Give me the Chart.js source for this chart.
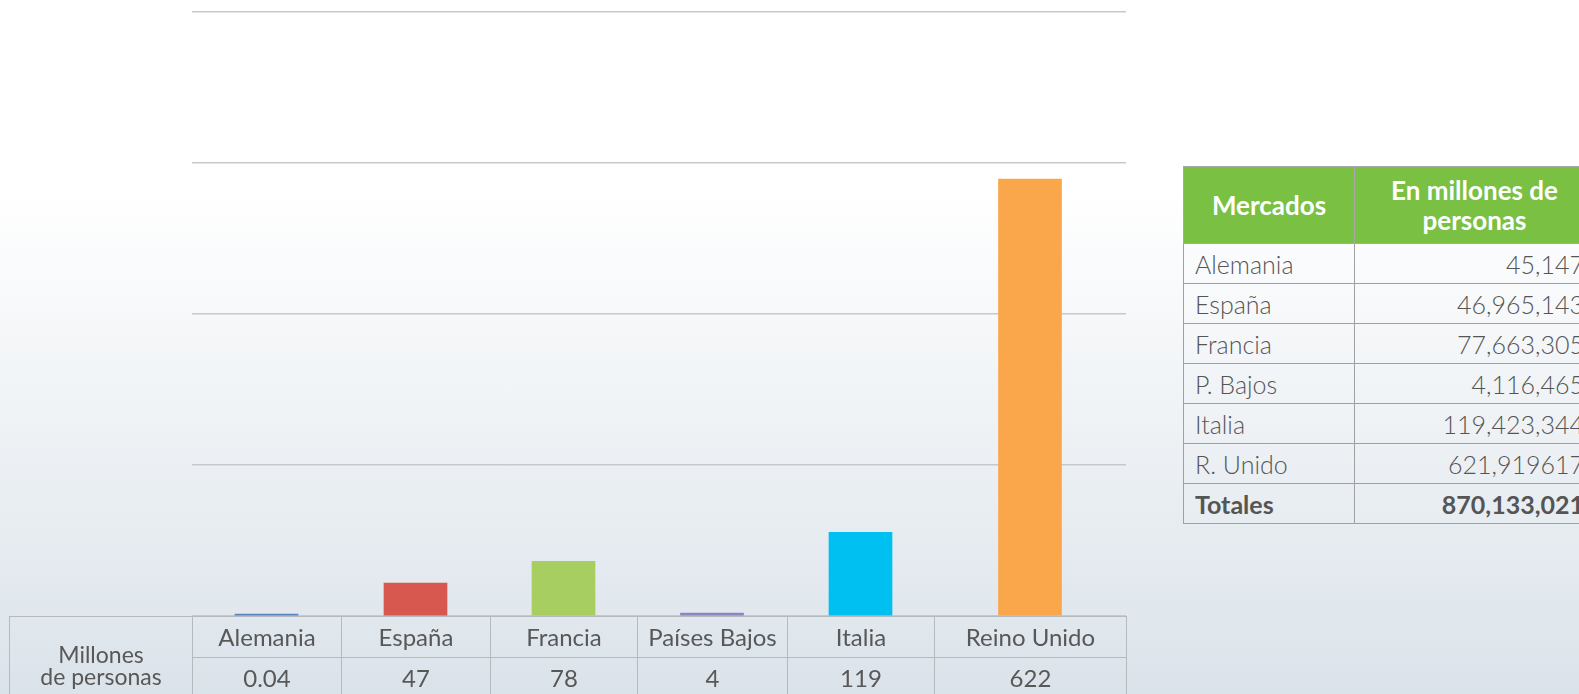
<!DOCTYPE html>
<html>
<head>
<meta charset="utf-8">
<script src="https://cdn.jsdelivr.net/npm/chart.js@4.4.1/dist/chart.umd.min.js"></script>
<style>
  html, body { margin: 0; padding: 0; }
  body {
    width: 1579px; height: 694px; overflow: hidden; position: relative;
    background: linear-gradient(to bottom, #ffffff 0px, #ffffff 190px, #dbe3ea 694px);
    font-family: Lato, "Open Sans", sans-serif; color: #555;
  }
  #chartBox { position: absolute; left: 0; top: 0; width: 1130px; height: 622px; }
  table { border-collapse: collapse; table-layout: fixed; position: absolute; }
  #dataTable { left: 9px; top: 616px; width: 1117px; font-size: 24px; color: #585858; }
  #dataTable td { border: 1.5px solid #b6babe; text-align: center; height: 40px; padding: 0; line-height: 24px; }
  #dataTable td.rowHead { vertical-align: top; padding-top: 26px; line-height: 22px; font-size: 23px; }
  #sideTable { left: 1183px; top: 166px; width: 411px; color: #555; }
  #sideTable th { background: #79c043; color: #fff; font-weight: 700; font-size: 26px; line-height: 30px;
    height: 76px; padding: 0; border: 1.5px solid #a8a8a8; }
  #sideTable td { font-weight: 300; font-size: 25px; height: 39px; padding: 0 10px 0 11px;
    border: 1.5px solid #a0a0a0; line-height: 26px; }
  #sideTable td.num { text-align: right; }
  #sideTable tr.total td { font-weight: 700; }
</style>
</head>
<body>
<div id="chartBox"><canvas id="myChart"></canvas></div>
<table id="dataTable"><colgroup id="dataCols"></colgroup><tbody id="dataBody"></tbody></table>
<table id="sideTable"><colgroup><col style="width:171px"><col style="width:240px"></colgroup><tbody id="sideBody"></tbody></table>
<script>
// chart data
const mercados = ['Alemania', 'España', 'Francia', 'Países Bajos', 'Italia', 'Reino Unido'];
const millones = [0.04, 47, 78, 4, 119, 622];
const millonesLabels = ['0.04', '47', '78', '4', '119', '622'];
const barColors = ['#5b84c4', '#d6584f', '#a6ce61', '#8b86c2', '#00c0f2', '#faa74b'];

// side table
const sideNames = ['Alemania', 'España', 'Francia', 'P. Bajos', 'Italia', 'R. Unido'];
const sideValues = ['45,147', '46,965,143', '77,663,305', '4,116,465', '119,423,344', '621,919617'];
const sideTotal = '870,133,021';

// widths of the data table columns (label column first)
const colWidths = [183, 149, 149, 147, 150, 147, 192];

// category scale whose slots follow the data table column widths
class TableColumnScale extends Chart.CategoryScale {
    getPixelForValue(value) {
        if (typeof value !== 'number') value = this.parse(value);
        const w = colWidths.slice(1);
        const total = w.reduce((a, b) => a + b, 0);
        let acc = 0;
        for (let k = 0; k < value; k++) acc += w[k];
        acc += w[value] / 2;
        return this.left + acc / total * this.width;
    }
}
TableColumnScale.id = 'tablecolumns';
TableColumnScale.defaults = Chart.CategoryScale.defaults;
Chart.register(TableColumnScale);

function buildTables() {
    document.getElementById('dataCols').innerHTML =
        colWidths.map(w => '<col style="width:' + w + 'px">').join('');
    const body = document.getElementById('dataBody');
    let r1 = '<tr><td class="rowHead" rowspan="2">Millones<br>de personas</td>';
    mercados.forEach(m => { r1 += '<td>' + m + '</td>' });
    r1 += '</tr><tr>';
    millonesLabels.forEach(v => { r1 += '<td>' + v + '</td>' });
    body.innerHTML = r1 + '</tr>';

    const side = document.getElementById('sideBody');
    let s = '<tr><th>Mercados</th><th>En millones de<br>personas</th></tr>';
    sideNames.forEach((n, i) => { s += '<tr><td>' + n + '</td><td class="num">' + sideValues[i] + '</td></tr>' });
    s += '<tr class="total"><td>Totales</td><td class="num">' + sideTotal + '</td></tr>';
    side.innerHTML = s;
}

buildTables();

const ctx = document.getElementById('myChart').getContext('2d');
const myChart = new Chart(ctx, {
    type: 'bar',
    data: {
        labels: mercados,
        datasets: [{
            data: millones,
            backgroundColor: barColors,
            borderWidth: 0,
            barThickness: 63,
            minBarLength: 2
        }]
    },
    options: {
        responsive: true,
        maintainAspectRatio: false,
        animation: false,
        layout: { padding: { left: 192, right: 4, top: 12, bottom: 6 } },
        plugins: { legend: { display: false }, tooltip: { enabled: false } },
        scales: {
            x: { type: 'tablecolumns', display: false },
            y: {
                min: 0,
                max: 860,
                ticks: { display: false, stepSize: 215 },
                grid: { color: '#c6c9cc', lineWidth: 1.5, drawTicks: false },
                border: { display: false }
            }
        }
    }
});
</script>
</body>
</html>
